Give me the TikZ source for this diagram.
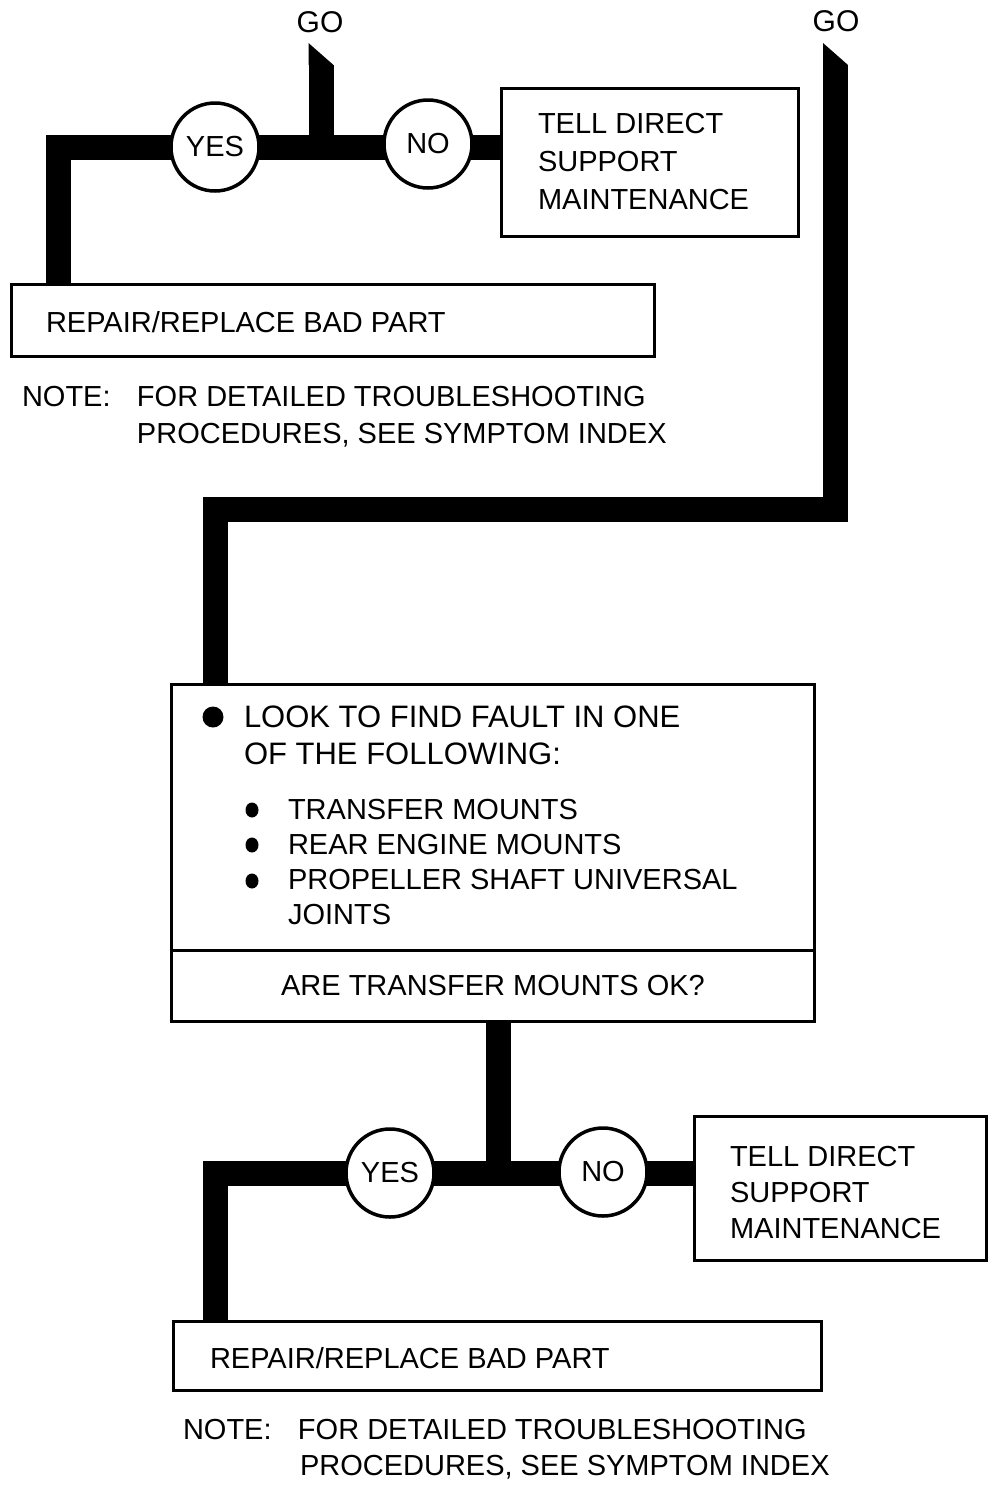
\documentclass[tikz,border=0pt]{standalone}
\usepackage{fontspec}
\setmainfont{Liberation Sans}
\usetikzlibrary{backgrounds}
\begin{document}
\begin{tikzpicture}[x=1pt,y=-1pt,
  every node/.style={inner sep=0pt, outer sep=0pt},
  txt/.style={anchor=north west, align=left, font=\fontsize{29}{36}\selectfont},
  box/.style={draw, line width=3pt, fill=white, anchor=north west},
  circ/.style={circle, draw, line width=3.5pt, fill=white, minimum size=88pt, font=\fontsize{29}{32}\selectfont},
  bar/.style={draw=black, line width=25pt, line join=miter},
  golabel/.style={font=\fontsize{30}{32}\selectfont}]
\useasboundingbox (0,0) rectangle (989,1492);

% ---------- top section ----------
\node[golabel] (go1) at (320,22) {GO};
\node[golabel] (go2) at (836,21) {GO};
\node[circ] (yes1) at (215,147) {YES};
\node[circ] (no1) at (428,144) {NO};
\node[box, minimum width=297pt, minimum height=148pt] (tell1) at (501.5,88.5) {};
\node[txt, font=\fontsize{29}{38}\selectfont] (tell1t) at (538,113.6) {TELL DIRECT\\SUPPORT\\MAINTENANCE};
\node[box, minimum width=643pt, minimum height=72pt] (rep1) at (11.5,284.5) {};
\node[txt] (rep1t) at (46,311.6) {REPAIR/REPLACE BAD PART};
\node[txt, font=\fontsize{29}{37}\selectfont] (note1) at (22,386.6)
  {\makebox[115pt][l]{NOTE:}FOR DETAILED TROUBLESHOOTING\\\hspace*{115pt}PROCEDURES, SEE SYMPTOM INDEX};

% ---------- middle box ----------
\node[box, minimum width=643pt, minimum height=265.5pt] (main) at (171.5,684.5) {};
\node[txt, font=\fontsize{31}{37}\selectfont] (maint) at (244,706)
  {LOOK TO FIND FAULT IN ONE\\OF THE FOLLOWING:};
\fill (213,717) circle (10.5);
\node[txt, font=\fontsize{29}{35}\selectfont] (items) at (288,799.6)
  {TRANSFER MOUNTS\\REAR ENGINE MOUNTS\\PROPELLER SHAFT UNIVERSAL\\JOINTS};
\fill (252,810) ellipse (6.5 and 7.5);
\fill (252,845) ellipse (6.5 and 7.5);
\fill (252,881) ellipse (6.5 and 7.5);
\node[box, minimum width=643pt, minimum height=71.5pt, font=\fontsize{29}{36}\selectfont] (qbox) at (171.5,950) {ARE TRANSFER MOUNTS OK?};

% ---------- bottom section ----------
\node[circ] (yes2) at (390,1173) {YES};
\node[circ] (no2) at (603,1172) {NO};
\node[box, minimum width=292pt, minimum height=144pt] (tell2) at (694.5,1116.5) {};
\node[txt] (tell2t) at (730,1146.6) {TELL DIRECT\\SUPPORT\\MAINTENANCE};
\node[box, minimum width=648pt, minimum height=69pt] (rep2) at (173.5,1321.5) {};
\node[txt] (rep2t) at (210,1347.6) {REPAIR/REPLACE BAD PART};
\node[txt, font=\fontsize{29}{36}\selectfont] (note2) at (183,1419.6)
  {\makebox[115pt][l]{NOTE:}FOR DETAILED TROUBLESHOOTING\\\hspace*{117pt}PROCEDURES, SEE SYMPTOM INDEX};

% ---------- connectors ----------
\coordinate (g1) at (321,65);
\coordinate (g2) at (835.5,65);
\coordinate (b2) at (215.5,509.5);
\coordinate (j2) at (498.5,1172.5);
\begin{scope}[on background layer]
  \fill[white] (0,0) rectangle (989,1492);
  \draw[bar] ([xshift=47pt]rep1.north west) |- (yes1) -- (tell1.west |- yes1);
  \draw[bar] (g1) -- (g1 |- yes1);
  \fill ([xshift=-12.5pt]g1) -- ++(0,-22) -- ([xshift=12.5pt]g1) -- cycle;
  \draw[bar] (g2) |- (b2) -- (b2 |- main.north);
  \fill ([xshift=-12.5pt]g2) -- ++(0,-22) -- ([xshift=12.5pt]g2) -- cycle;
  \draw[bar] (qbox.south -| j2) -- (j2);
  \draw[bar] ([xshift=42pt]rep2.north west) |- (yes2) -- (tell2.west |- yes2);
\end{scope}
\end{tikzpicture}
\end{document}
